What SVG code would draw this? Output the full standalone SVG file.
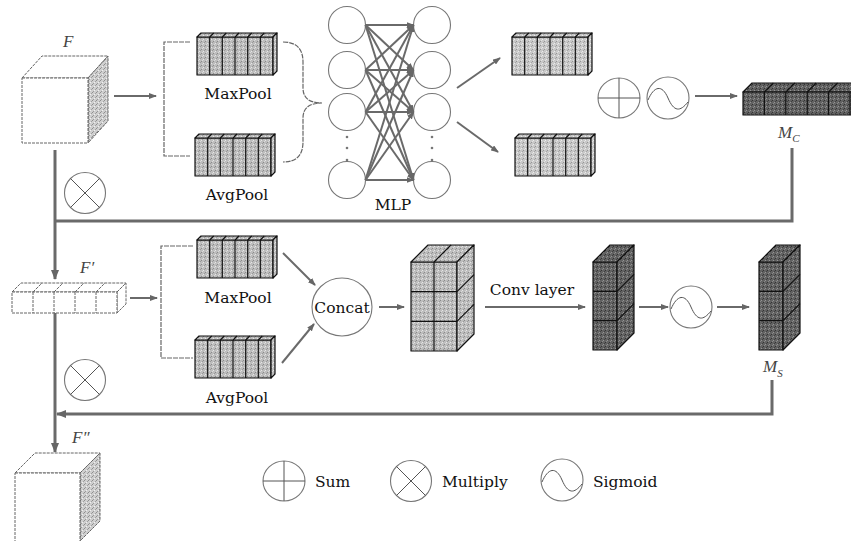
<svg xmlns="http://www.w3.org/2000/svg" xmlns:xlink="http://www.w3.org/1999/xlink" width="851" height="541" viewBox="0 0 851 541">
<style>
.lbl{font-family:"DejaVu Serif","Liberation Serif",serif;font-size:15.5px;fill:#111}
.math{font-family:"Liberation Serif",serif;font-style:italic;font-size:17px;fill:#444}
.sub{font-size:11px}
.blk{stroke:#111;stroke-width:1.2;stroke-linejoin:round}
.ghost{fill:#fff;stroke:#666;stroke-width:1;stroke-dasharray:3 1}
.conn{fill:none;stroke:#6a6a6a;stroke-width:2}
.fb{fill:none;stroke:#6a6a6a;stroke-width:3}
.brk{fill:none;stroke:#666;stroke-width:1.2;stroke-dasharray:5 1}
.node{fill:#fff;stroke:#777;stroke-width:1.1}
.sym{fill:none;stroke:#555;stroke-width:1}
</style>
<defs>
<pattern id="lt" width="4" height="4" patternUnits="userSpaceOnUse">
<rect width="4" height="4" fill="#bdbdbd"/><rect x="0" y="0" width="1" height="1" fill="#8a8a8a"/><rect x="2" y="2" width="1" height="1" fill="#e6e6e6"/><rect x="3" y="1" width="1" height="1" fill="#999"/><rect x="1" y="3" width="1" height="1" fill="#dadada"/>
</pattern>
<pattern id="lt2" width="4" height="4" patternUnits="userSpaceOnUse">
<rect width="4" height="4" fill="#c8c8c8"/><rect x="0" y="0" width="1" height="1" fill="#959595"/><rect x="2" y="2" width="1" height="1" fill="#ececec"/><rect x="3" y="1" width="1" height="1" fill="#a5a5a5"/><rect x="1" y="3" width="1" height="1" fill="#e2e2e2"/>
</pattern>
<pattern id="dk" width="4" height="4" patternUnits="userSpaceOnUse">
<rect width="4" height="4" fill="#626262"/><rect x="0" y="0" width="1" height="1" fill="#333"/><rect x="2" y="2" width="1" height="1" fill="#959595"/><rect x="3" y="1" width="1" height="1" fill="#404040"/><rect x="1" y="3" width="1" height="1" fill="#888"/>
</pattern>
<pattern id="side" width="4" height="4" patternUnits="userSpaceOnUse">
<rect width="4" height="4" fill="#cfcfcf"/><rect x="0" y="0" width="1" height="1" fill="#8f8f8f"/><rect x="2" y="2" width="1" height="1" fill="#f0f0f0"/><rect x="3" y="1" width="1" height="1" fill="#a0a0a0"/><rect x="1" y="3" width="1" height="1" fill="#9a9a9a"/>
</pattern>
<marker id="ah" viewBox="0 0 8 6" refX="7" refY="3" markerWidth="8" markerHeight="6" markerUnits="userSpaceOnUse" orient="auto">
<path d="M0,0 L8,3 L0,6 z" fill="#666"/>
</marker>
<marker id="ah2" viewBox="0 0 10 8" refX="9" refY="4" markerWidth="10" markerHeight="8" markerUnits="userSpaceOnUse" orient="auto">
<path d="M0,0 L10,4 L0,8 z" fill="#666"/>
</marker>
<g id="slab" class="blk">
<rect x="0" y="0" width="76" height="38"/>
<polygon points="0,0 4,-4 80,-4 76,0"/>
<polygon points="76,0 80,-4 80,34 76,38"/>
<path d="M12.7,0V38M25.3,0V38M38,0V38M50.7,0V38M63.3,0V38M12.7,0l4,-4M25.3,0l4,-4M38,0l4,-4M50.7,0l4,-4M63.3,0l4,-4" fill="none"/>
</g>
<g id="tower" class="blk">
<rect x="0" y="0" width="24" height="88"/>
<polygon points="0,0 17,-17 41,-17 24,0"/>
<polygon points="24,0 41,-17 41,71 24,88"/>
<path d="M0,29.3H24M0,58.7H24M24,29.3l17,-17M24,58.7l17,-17" fill="none"/>
</g>
<g id="sigm">
<circle r="21" class="node"/>
<path class="sym" d="M-20,2 C-14,-12 -6,-14 0,0 S12,14 20,4"/>
</g>
<g id="plus">
<ellipse rx="21" ry="20" class="node"/>
<path class="sym" d="M-21,0H21M0,-20V20"/>
</g>
<g id="times">
<circle r="20.5" class="node"/>
<path class="sym" d="M-14.5,-14.5L14.5,14.5M14.5,-14.5L-14.5,14.5"/>
</g>
</defs>
<rect width="851" height="541" fill="#fff"/>

<g id="F">
<polygon class="ghost" points="22,78 42,56 108,56 88,78"/>
<polygon class="ghost" points="88,78 108,56 108,121 88,143" style="fill:url(#side)"/>
<rect class="ghost" x="22" y="78" width="66" height="65"/>
<text class="math" x="63" y="47">F</text>
</g>

<g id="maxpool1"><use href="#slab" x="197" y="37" fill="url(#lt)"/><text class="lbl" x="238" y="99" text-anchor="middle">MaxPool</text></g>
<g id="avgpool1"><use href="#slab" x="195" y="138" fill="url(#lt)"/><text class="lbl" x="237" y="200" text-anchor="middle">AvgPool</text></g>

<g id="mlp">
<circle class="node" cx="347" cy="25" r="18.5"/><circle class="node" cx="347" cy="70" r="18.5"/><circle class="node" cx="347" cy="112" r="18.5"/><circle class="node" cx="347" cy="180" r="18.5"/>
<circle class="node" cx="432" cy="25" r="18.5"/><circle class="node" cx="432" cy="70" r="18.5"/><circle class="node" cx="432" cy="112" r="18.5"/><circle class="node" cx="432" cy="180" r="18.5"/>
<g fill="#777"><circle cx="347" cy="137" r="1.3"/><circle cx="347" cy="148" r="1.3"/><circle cx="347" cy="160" r="1.3"/><circle cx="432" cy="137" r="1.3"/><circle cx="432" cy="148" r="1.3"/><circle cx="432" cy="160" r="1.3"/></g>
<text class="lbl" x="393" y="210" text-anchor="middle">MLP</text>
</g>

<g id="out1"><use href="#slab" x="512" y="37" fill="url(#lt2)"/></g>
<g id="out2"><use href="#slab" x="515" y="138" fill="url(#lt2)"/></g>

<g id="sum1"><use href="#plus" x="619" y="98"/></g>
<g id="sig1"><use href="#sigm" x="668" y="98"/></g>

<g id="MC" class="blk">
<polygon points="743,92 752,83 860,83 851,92" fill="url(#dk)"/>
<rect x="743" y="92" width="110" height="23" fill="url(#dk)"/>
<path d="M764.4,92V115M785.8,92V115M807.2,92V115M828.6,92V115M850,92V115M764.4,92l9,-9M785.8,92l9,-9M807.2,92l9,-9M828.6,92l9,-9" fill="none"/>
<text class="math" x="778" y="138" stroke="none">M<tspan class="sub" dy="4">C</tspan></text>
</g>

<g id="Fp">
<polygon class="ghost" points="12,292 21,283 126,283 117,292"/>
<polygon class="ghost" points="117,292 126,283 126,304 117,313"/>
<rect class="ghost" x="12" y="292" width="105" height="21"/>
<path class="ghost" d="M33,292V313M54,292V313M75,292V313M96,292V313M33,292l9,-9M54,292l9,-9M75,292l9,-9M96,292l9,-9"/>
<text class="math" x="80" y="273">F′</text>
</g>

<g id="maxpool2"><use href="#slab" x="197" y="240" fill="url(#lt)"/><text class="lbl" x="238" y="303" text-anchor="middle">MaxPool</text></g>
<g id="avgpool2"><use href="#slab" x="195" y="340" fill="url(#lt)"/><text class="lbl" x="237" y="403" text-anchor="middle">AvgPool</text></g>

<g id="concat"><ellipse class="node" cx="342" cy="307" rx="30" ry="29"/><text class="lbl" x="342" y="313" text-anchor="middle">Concat</text></g>

<g id="cube" class="blk" fill="url(#lt)">
<rect x="411" y="262" width="46" height="89"/>
<polygon points="411,262 428,245 474,245 457,262"/>
<polygon points="457,262 474,245 474,334 457,351"/>
<path fill="none" d="M434,262V351M411,291.7H457M411,321.3H457M434,262l17,-17M457,291.7l17,-17M457,321.3l17,-17"/>
</g>

<g id="conv"><use href="#tower" x="593" y="262" fill="url(#dk)"/></g>
<g id="sig2"><use href="#sigm" x="691" y="307"/></g>
<g id="MS"><use href="#tower" x="759" y="262" fill="url(#dk)"/><text class="math" x="763" y="372">M<tspan class="sub" dy="5">S</tspan></text></g>

<g id="times1"><use href="#times" x="85" y="193"/></g>
<g id="times2"><use href="#times" x="85" y="380"/></g>

<g id="Fpp">
<polygon class="ghost" points="15,473 35,453 100,453 80,473"/>
<polygon class="ghost" points="80,473 100,453 100,521 80,541" style="fill:url(#side)"/>
<rect class="ghost" x="15" y="473" width="65" height="70"/>
<text class="math" x="72" y="443">F″</text>
</g>

<g id="legend">
<use href="#plus" x="284" y="481"/><text class="lbl" x="315" y="487">Sum</text>
<use href="#times" x="411" y="481"/><text class="lbl" x="442" y="487">Multiply</text>
<use href="#sigm" x="562" y="480"/><text class="lbl" x="593" y="487">Sigmoid</text>
</g>

<g id="connectors">
<path class="brk" d="M190,42H164V156H190"/>
<path class="brk" d="M283,42 Q303,42 303,62 L303,88 Q303,103 322,103 Q303,103 303,118 L303,142 Q303,162 283,162"/>
<path class="brk" d="M193,246H161V358H193"/>
<line class="conn" x1="114" y1="96" x2="156" y2="96" marker-end="url(#ah)"/>
<g class="conn" stroke-width="1.6" marker-end="url(#ah)">
<line x1="365.5" y1="25" x2="413.5" y2="25"/><line x1="365.5" y1="25" x2="413.5" y2="70"/><line x1="365.5" y1="25" x2="413.5" y2="112"/><line x1="365.5" y1="25" x2="413.5" y2="180"/>
<line x1="365.5" y1="70" x2="413.5" y2="25"/><line x1="365.5" y1="70" x2="413.5" y2="70"/><line x1="365.5" y1="70" x2="413.5" y2="112"/><line x1="365.5" y1="70" x2="413.5" y2="180"/>
<line x1="365.5" y1="112" x2="413.5" y2="25"/><line x1="365.5" y1="112" x2="413.5" y2="70"/><line x1="365.5" y1="112" x2="413.5" y2="112"/><line x1="365.5" y1="112" x2="413.5" y2="180"/>
<line x1="365.5" y1="180" x2="413.5" y2="25"/><line x1="365.5" y1="180" x2="413.5" y2="70"/><line x1="365.5" y1="180" x2="413.5" y2="112"/><line x1="365.5" y1="180" x2="413.5" y2="180"/>
</g>
<line class="conn" x1="457" y1="88" x2="500" y2="58" marker-end="url(#ah)"/>
<line class="conn" x1="457" y1="122" x2="498" y2="152" marker-end="url(#ah)"/>
<line class="conn" x1="695" y1="96" x2="737" y2="96" marker-end="url(#ah)"/>
<path class="fb" d="M792,148V221H55"/>
<line class="fb" x1="55" y1="150" x2="55" y2="279" marker-end="url(#ah2)"/>
<line class="conn" x1="130" y1="298" x2="157" y2="298" marker-end="url(#ah)"/>
<line class="conn" x1="283" y1="253" x2="315" y2="285" marker-end="url(#ah)"/>
<line class="conn" x1="282" y1="363" x2="314" y2="324" marker-end="url(#ah)"/>
<line class="conn" x1="379" y1="307" x2="404" y2="307" marker-end="url(#ah)"/>
<line class="conn" x1="485" y1="307" x2="585" y2="307" marker-end="url(#ah)"/>
<text class="lbl" x="532" y="295" text-anchor="middle">Conv layer</text>
<line class="conn" x1="639" y1="307" x2="668" y2="307" marker-end="url(#ah)"/>
<line class="conn" x1="717" y1="307" x2="749" y2="307" marker-end="url(#ah)"/>
<path class="fb" d="M772,380V414H57" marker-end="url(#ah2)"/>
<line class="fb" x1="55" y1="313" x2="55" y2="452" marker-end="url(#ah2)"/>
</g>
</svg>
